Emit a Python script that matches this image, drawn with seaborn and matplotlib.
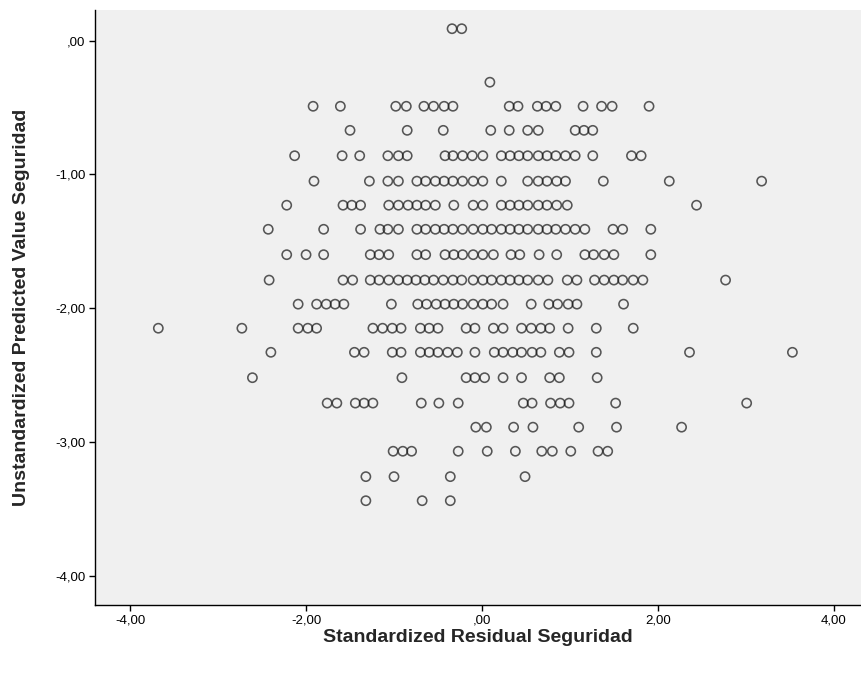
import matplotlib
matplotlib.use("Agg")
import matplotlib.pyplot as plt
import seaborn as sns
import pandas as pd
from matplotlib.ticker import FuncFormatter

# Predicted value levels (rows) and the standardized residuals in each row
y_levels = [0.09, -0.31, -0.49, -0.67, -0.86, -1.05, -1.23, -1.41, -1.60, -1.79,
            -1.97, -2.15, -2.33, -2.52, -2.71, -2.89, -3.07, -3.26, -3.44]

resid_rows = [
    [-0.34, -0.23],
    [0.09],
    [-1.92, -1.61, -0.98, -0.86, -0.66, -0.55, -0.43, -0.33, 0.31, 0.41, 0.63, 0.73, 0.84,
     1.15, 1.36, 1.48, 1.90],
    [-1.50, -0.85, -0.44, 0.10, 0.31, 0.52, 0.64, 1.06, 1.16, 1.26],
    [-2.13, -1.59, -1.39, -1.07, -0.95, -0.85, -0.42, -0.33, -0.22, -0.11, 0.01, 0.22, 0.32,
     0.42, 0.52, 0.64, 0.74, 0.84, 0.95, 1.06, 1.26, 1.70, 1.81],
    [-1.91, -1.28, -1.07, -0.95, -0.74, -0.64, -0.53, -0.43, -0.33, -0.22, -0.10, 0.01, 0.22,
     0.52, 0.64, 0.74, 0.85, 0.95, 1.38, 2.13, 3.18],
    [-2.22, -1.58, -1.48, -1.38, -1.06, -0.95, -0.84, -0.74, -0.64, -0.53, -0.32, -0.10, 0.01,
     0.22, 0.32, 0.42, 0.52, 0.64, 0.74, 0.85, 0.97, 2.44],
    [-2.43, -1.80, -1.38, -1.16, -1.07, -0.95, -0.74, -0.64, -0.53, -0.43, -0.33, -0.22, -0.10,
     0.01, 0.11, 0.22, 0.32, 0.42, 0.52, 0.64, 0.74, 0.84, 0.95, 1.06, 1.17, 1.49, 1.60, 1.92],
    [-2.22, -2.00, -1.80, -1.27, -1.17, -1.06, -0.74, -0.64, -0.42, -0.32, -0.22, -0.10, 0.01,
     0.13, 0.33, 0.43, 0.65, 0.85, 1.17, 1.27, 1.39, 1.50, 1.92],
    [-2.42, -1.58, -1.47, -1.27, -1.17, -1.06, -0.95, -0.85, -0.75, -0.65, -0.55, -0.44, -0.33,
     -0.23, -0.10, 0.01, 0.11, 0.22, 0.32, 0.42, 0.52, 0.64, 0.75, 0.97, 1.08, 1.28, 1.39,
     1.50, 1.60, 1.72, 1.83, 2.77],
    [-2.09, -1.88, -1.77, -1.67, -1.57, -1.03, -0.73, -0.63, -0.52, -0.42, -0.32, -0.22, -0.10,
     0.01, 0.11, 0.24, 0.56, 0.76, 0.86, 0.98, 1.08, 1.61],
    [-3.68, -2.73, -2.09, -1.98, -1.88, -1.24, -1.13, -1.02, -0.92, -0.70, -0.60, -0.50, -0.18,
     -0.08, 0.13, 0.24, 0.45, 0.56, 0.67, 0.77, 0.98, 1.30, 1.72],
    [-2.40, -1.45, -1.34, -1.02, -0.92, -0.70, -0.60, -0.50, -0.39, -0.28, -0.08, 0.14, 0.24,
     0.35, 0.45, 0.57, 0.67, 0.88, 0.99, 1.30, 2.36, 3.53],
    [-2.61, -0.91, -0.18, -0.08, 0.03, 0.24, 0.45, 0.77, 0.88, 1.31],
    [-1.76, -1.65, -1.44, -1.34, -1.24, -0.69, -0.49, -0.27, 0.47, 0.57, 0.78, 0.89, 0.99,
     1.52, 3.01],
    [-0.07, 0.05, 0.36, 0.58, 1.10, 1.53, 2.27],
    [-1.01, -0.90, -0.80, -0.27, 0.06, 0.38, 0.68, 0.80, 1.01, 1.32, 1.43],
    [-1.32, -1.00, -0.36, 0.49],
    [-1.32, -0.68, -0.36],
]

x_ticks = [-4, -2, 0, 2, 4]
y_ticks = [0, -1, -2, -3, -4]
x_label = "Standardized Residual Seguridad"
y_label = "Unstandardized Predicted Value Seguridad"

rows = []
for yv, xs in zip(y_levels, resid_rows):
    for xv in xs:
        rows.append({"resid": xv, "pred": yv})
df = pd.DataFrame(rows)

sns.set_style("white")
plt.rcParams["font.family"] = ["Liberation Sans", "DejaVu Sans"]

fig = plt.figure(figsize=(8.61, 6.84), dpi=100)
ax = fig.add_axes([95 / 861, 1 - 605 / 684, (861 - 95) / 861, (605 - 10) / 684])
ax.set_facecolor("#F0F0F0")

sns.scatterplot(data=df, x="resid", y="pred", ax=ax, marker="o", s=44,
                facecolor="none", edgecolor="#1a1a1a", alpha=0.72,
                linewidth=1.15, legend=False)

ax.set_xlim(-4.40, 4.31)
ax.set_ylim(-4.22, 0.23)


def comma_fmt(v, pos=None):
    if abs(v) < 1e-9:
        return ",00"
    return f"{v:.2f}".replace(".", ",")


ax.set_xticks(x_ticks)
ax.set_yticks(y_ticks)
ax.xaxis.set_major_formatter(FuncFormatter(comma_fmt))
ax.yaxis.set_major_formatter(FuncFormatter(comma_fmt))
ax.tick_params(axis="both", which="major", direction="out", length=4, width=1,
               color="black", labelsize=9.5, labelcolor="black", pad=3)
ax.tick_params(bottom=True, left=True)

for side in ["top", "right"]:
    ax.spines[side].set_visible(False)
for side in ["left", "bottom"]:
    ax.spines[side].set_color("black")
    ax.spines[side].set_linewidth(1)

ax.set_xlabel(x_label, fontsize=14, fontweight="bold", labelpad=2)
ax.set_ylabel(y_label, fontsize=14, fontweight="bold", labelpad=18)

fig.savefig("out.png", dpi=100, facecolor="white")
